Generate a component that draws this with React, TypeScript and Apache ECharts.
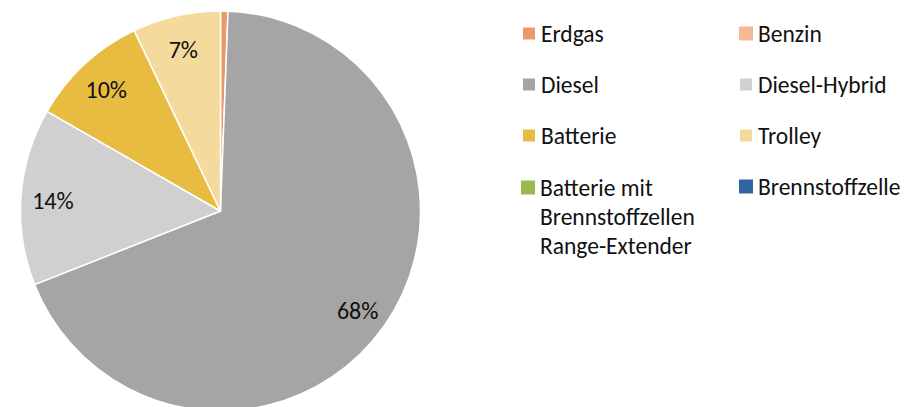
import React, { useEffect, useRef } from 'react';
import * as echarts from 'echarts';

const LONG_NAME = 'Batterie mit Brennstoffzellen Range-Extender';

const categories = [
  'Erdgas',
  'Benzin',
  'Diesel',
  'Diesel-Hybrid',
  'Batterie',
  'Trolley',
  LONG_NAME,
  'Brennstoffzelle',
];
const shares = [0.6, 0, 68.4, 14.3, 9.6, 7.1, 0, 0];
const colors = ['#EB9A6B', '#F4B997', '#A5A5A5', '#D0D0D0', '#E8BC41', '#F4DA9C', '#9BBB51', '#2E67A0'];
const legendColumn1 = ['Erdgas', 'Diesel', 'Batterie'];
const legendColumn1b = [LONG_NAME];
const legendColumn2 = ['Benzin', 'Diesel-Hybrid', 'Trolley', 'Brennstoffzelle'];

const FONT = 'Carlito, Lato, "Open Sans", sans-serif';

export default function App() {
  const ref = useRef<HTMLDivElement>(null);

  useEffect(() => {
    document.body.style.margin = '0';
    if (!ref.current) return;
    const chart = echarts.init(ref.current, undefined, { renderer: 'svg' });

    const pieData = categories.map((name, i) => ({
      name,
      value: shares[i],
      itemStyle: { color: colors[i], borderWidth: shares[i] > 0 ? 1.5 : 0 },
    }));
    const labelData = categories.map((name, i) => ({
      name,
      value: shares[i],
      label: { show: shares[i] >= 5 },
    }));

    const legendText = {
      fontFamily: FONT,
      fontSize: 23.5,
      color: '#111',
      lineHeight: 29,
    };
    const legendBase = {
      orient: 'vertical',
      padding: 0,
      itemWidth: 14,
      itemHeight: 14,
      itemGap: 22,
      icon: 'rect',
      textStyle: legendText,
    };

    chart.setOption({
      animation: false,
      color: colors,
      legend: [
        { ...legendBase, left: 521, top: 19, data: legendColumn1 },
        {
          ...legendBase,
          left: 521,
          top: 115,
          formatter: () => '\n\nBatterie mit\nBrennstoffzellen\nRange-Extender',
          data: legendColumn1b,
        },
        { ...legendBase, left: 738, top: 19, data: legendColumn2 },
      ],
      series: [
        {
          type: 'pie',
          center: [220.5, 211],
          radius: [0, 200],
          startAngle: 90,
          clockwise: true,
          avoidLabelOverlap: false,
          itemStyle: { borderColor: '#fff' },
          label: { show: false },
          labelLine: { show: false },
          emphasis: { disabled: true },
          data: pieData,
        },
        {
          type: 'pie',
          center: [220.5, 213],
          radius: [130, 200],
          startAngle: 90,
          clockwise: true,
          silent: true,
          legendHoverLink: false,
          avoidLabelOverlap: false,
          itemStyle: { color: 'transparent', borderWidth: 0 },
          label: {
            show: true,
            position: 'inside',
            formatter: (p: any) => Math.round(p.value) + '%',
            fontFamily: FONT,
            fontSize: 24,
            color: '#111',
          },
          labelLine: { show: false },
          emphasis: { disabled: true },
          data: labelData,
        },
      ],
    });

    return () => chart.dispose();
  }, []);

  return <div ref={ref} style={{ width: 907, height: 407 }} />;
}
